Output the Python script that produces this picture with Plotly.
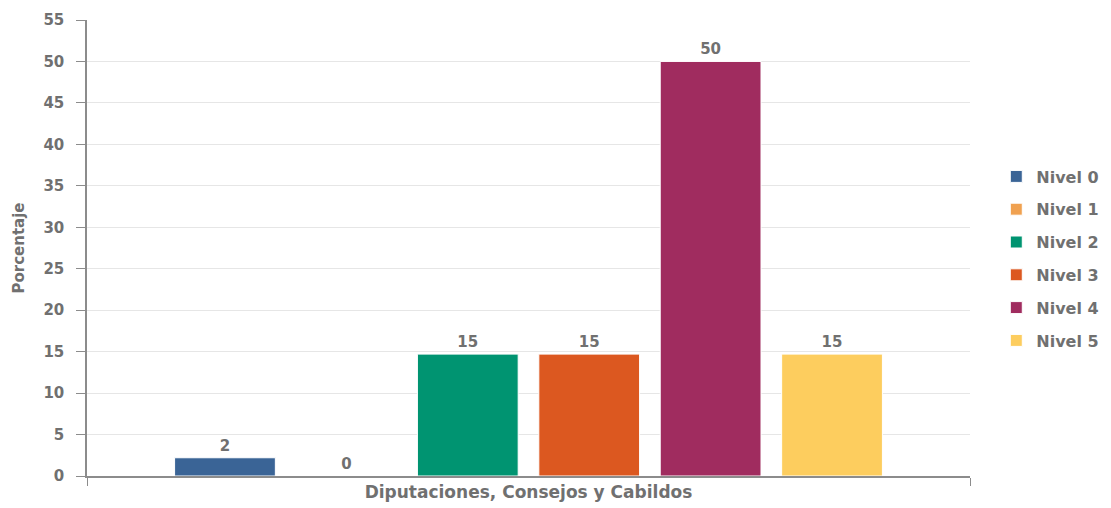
import plotly.graph_objects as go

COLOR_TEXT = '#707070'
COLOR_GRID = '#e6e6e6'
COLOR_AXIS = '#8c8c8c'
FONT = 'DejaVu Sans'

categoria = ['Diputaciones, Consejos y Cabildos']
niveles = ['Nivel 0', 'Nivel 1', 'Nivel 2', 'Nivel 3', 'Nivel 4', 'Nivel 5']
valores = [2.2, 0, 14.7, 14.7, 50, 14.7]
colores = ['#3a6496', '#f0a150', '#009471', '#dc5820', '#a02c5f', '#fdcd5e']

fig = go.Figure()

for nombre, v, c in zip(niveles, valores, colores):
    fig.add_trace(go.Bar(
        x=categoria,
        y=[v],
        name=nombre,
        legendgroup=nombre,
        marker=dict(color=c, line=dict(color='#ffffff', width=1)),
        text=[f'{v:.0f}'],
        textposition='outside',
        cliponaxis=False,
        textfont=dict(color=COLOR_TEXT, size=15, family=FONT, weight='bold'),
    ))

# la pagina tiene margen de 8px en body, asi que la figura es 8px mas chica
fig.update_layout(
    width=1103,
    height=500,
    paper_bgcolor='white',
    plot_bgcolor='white',
    barmode='group',
    bargap=0.175,
    bargroupgap=0.17,
    margin=dict(l=79, r=141, t=12, b=32),
    font=dict(color=COLOR_TEXT, family=FONT, size=13, weight='bold'),
    xaxis=dict(
        automargin=False,
        showline=True,
        linecolor=COLOR_AXIS,
        linewidth=1.5,
        ticks='outside',
        tickson='boundaries',
        ticklen=8,
        tickcolor=COLOR_AXIS,
        tickfont=dict(size=17, color=COLOR_TEXT, weight='bold'),
    ),
    yaxis=dict(
        automargin=False,
        range=[0, 55],
        dtick=5,
        showline=True,
        linecolor=COLOR_AXIS,
        linewidth=1.5,
        ticks='outside',
        ticklen=9,
        tickcolor=COLOR_AXIS,
        ticklabelstandoff=9,
        gridcolor=COLOR_GRID,
        zeroline=False,
        tickfont=dict(size=15, color=COLOR_TEXT, weight='bold'),
        title=dict(text='Porcentaje', font=dict(size=15, color=COLOR_TEXT, weight='bold'), standoff=15),
    ),
    # legend en coordenadas del contenedor para que no empuje el area del grafico
    legend=dict(
        xref='container',
        yref='container',
        x=0.896,
        xanchor='left',
        y=0.499,
        yanchor='middle',
        tracegroupgap=9,
        font=dict(size=16, color=COLOR_TEXT, weight='bold'),
    ),
)

fig.write_html('out.html')
